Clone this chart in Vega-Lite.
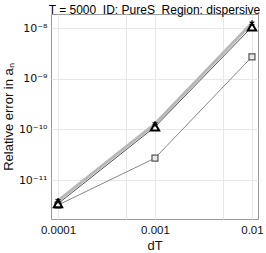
{
  "$schema": "https://vega.github.io/schema/vega-lite/v6.json",
  "width": 207,
  "height": 205,
  "autosize": {"type": "none"},
  "padding": {"left": 51, "top": 14, "right": 8, "bottom": 34},
  "background": "white",
  "title": {"text": "T = 5000\u00a0\u00a0ID: PureS\u00a0\u00a0Region: dispersive", "font": "Liberation Sans", "fontSize": 12, "fontWeight": "normal", "color": "#000", "offset": 2, "dy": 5, "anchor": "middle"},
  "config": {
    "view": {"stroke": "#999", "strokeWidth": 1},
    "axis": {"domain": false, "ticks": false, "gridColor": "#e8e8e8", "gridWidth": 1, "labelFont": "Liberation Sans", "labelFontSize": 11.5, "labelColor": "#111", "titleFont": "Liberation Sans", "titleFontSize": 13, "titleFontWeight": "normal", "titleColor": "#111"}
  },
  "data": {"values": [
    {"series": "A", "dT": 0.0001, "err": 3.9e-12},
    {"series": "A", "dT": 0.001, "err": 1.28e-10},
    {"series": "A", "dT": 0.01, "err": 1.25e-8},
    {"series": "B", "dT": 0.0001, "err": 3.4e-12},
    {"series": "B", "dT": 0.001, "err": 1.12e-10},
    {"series": "B", "dT": 0.01, "err": 1.05e-8},
    {"series": "C", "dT": 0.0001, "err": 3.2e-12},
    {"series": "C", "dT": 0.001, "err": 2.7e-11},
    {"series": "C", "dT": 0.01, "err": 2.7e-9}
  ]},
  "encoding": {
    "x": {"field": "dT", "type": "quantitative", "scale": {"type": "log", "domain": [8.47e-5, 0.01154], "nice": false},
      "axis": {"title": "dT", "values": [0.0001, 0.0005, 0.001, 0.005, 0.01], "labelExpr": "datum.value == 0.0001 ? '0.0001' : datum.value == 0.001 ? '0.001' : datum.value == 0.01 ? '0.01' : ''", "labelPadding": 5, "titlePadding": 4, "labelFlush": false}},
    "y": {"field": "err", "type": "quantitative", "scale": {"type": "log", "domain": [1.7e-12, 1.89e-8], "nice": false},
      "axis": {"title": "Relative error in aₙ", "values": [1e-11, 1e-10, 1e-9, 1e-8], "labelFont": "DejaVu Sans", "labelFontSize": 11, "labelExpr": "'10⁻' + ['⁰','¹','²','³','⁴','⁵','⁶','⁷','⁸','⁹','¹⁰','¹¹','¹²'][-round(log(datum.value)/LN10)]", "labelPadding": 4, "titlePadding": 3, "labelFlush": false}}
  },
  "layer": [
    {"transform": [{"filter": "datum.series == 'A'"}], "mark": {"type": "line", "color": "#b8b8b8", "strokeWidth": 3}},
    {"transform": [{"filter": "datum.series == 'B'"}], "mark": {"type": "line", "color": "#555", "strokeWidth": 1}},
    {"transform": [{"filter": "datum.series == 'C'"}], "mark": {"type": "line", "color": "#888", "strokeWidth": 1}},
    {"transform": [{"filter": "datum.series == 'C'"}], "mark": {"type": "point", "shape": "square", "size": 36, "filled": false, "stroke": "#555", "fill": "#e8e8e8", "fillOpacity": 1, "strokeWidth": 1.2, "opacity": 1}},
    {"transform": [{"filter": "datum.series == 'B'"}], "mark": {"type": "point", "shape": "triangle-up", "size": 70, "filled": false, "stroke": "#000", "fill": "#fff", "fillOpacity": 1, "strokeWidth": 2, "opacity": 1}},
    {"transform": [{"filter": "datum.series == 'A'"}], "mark": {"type": "point", "shape": "M0,-1L0,1M-0.87,-0.5L0.87,0.5M-0.87,0.5L0.87,-0.5", "size": 30, "filled": false, "stroke": "#000", "strokeWidth": 1.2, "opacity": 1}}
  ]
}
